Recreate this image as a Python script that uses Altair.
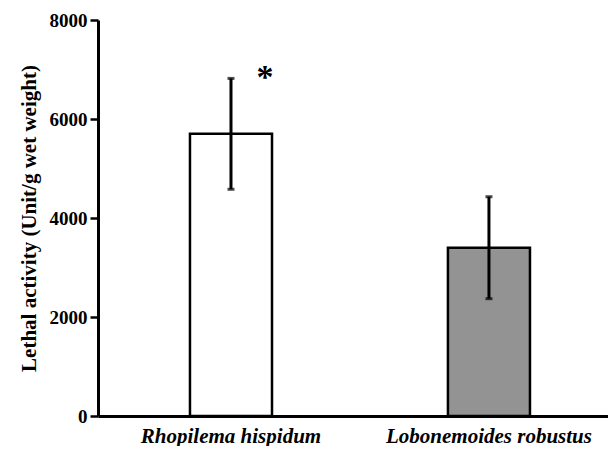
import altair as alt
import pandas as pd

species = ["Rhopilema hispidum", "Lobonemoides robustus"]
means = [5700, 3400]
errors = [1120, 1030]
fills = ["#ffffff", "#939393"]
marker_text = ["*", ""]
y_ticks = [0, 2000, 4000, 6000, 8000]

df = pd.DataFrame({
    "species": species,
    "mean": means,
    "lo": [m - e for m, e in zip(means, errors)],
    "hi": [m + e for m, e in zip(means, errors)],
    "fill": fills,
    "mark": marker_text,
})

FONT = "Liberation Serif"

x = alt.X("species:N", sort=species, title=None,
          scale=alt.Scale(paddingInner=0.682, paddingOuter=0.3295, align=0.541),
          axis=alt.Axis(labelAngle=0, ticks=False, domainColor="black", domainWidth=3,
                        labelFont=FONT, labelFontSize=21, labelFontWeight="bold",
                        labelFontStyle="italic", labelColor="black", labelPadding=9,
                        labelLimit=400))
y = alt.Y("mean:Q", title="Lethal activity (Unit/g wet weight)",
          scale=alt.Scale(domain=[0, 8000], nice=False),
          axis=alt.Axis(values=y_ticks, format="d", grid=False, domainColor="black", domainWidth=3,
                        tickColor="black", tickWidth=2.5, tickSize=8,
                        labelFont=FONT, labelFontSize=19, labelFontWeight="bold",
                        labelColor="black", labelPadding=3,
                        titleFont=FONT, titleFontSize=21, titleFontWeight="bold",
                        titleColor="black", titlePadding=10))

base = alt.Chart(df)

bars = base.mark_bar(stroke="black", strokeWidth=2.5).encode(
    x=x, y=y, fill=alt.Fill("fill:N", scale=None))

err = base.mark_rule(color="black", strokeWidth=3).encode(
    x=alt.X("species:N", sort=species), y="lo:Q", y2="hi:Q")
cap_lo = base.mark_tick(color="black", thickness=3, size=7, orient="horizontal").encode(
    x=alt.X("species:N", sort=species), y="lo:Q")
cap_hi = base.mark_tick(color="black", thickness=3, size=7, orient="horizontal").encode(
    x=alt.X("species:N", sort=species), y="hi:Q")

star = base.mark_text(font=FONT, fontSize=34, fontWeight="bold", color="black",
                      dx=34, dy=0, baseline="middle").encode(
    x=alt.X("species:N", sort=species), y=alt.Y("hi:Q"), text="mark:N")

chart = alt.layer(bars, err, cap_lo, cap_hi, star).properties(
    width=510, height=396,
    padding={"left": 90, "top": 12, "right": 0, "bottom": 30},
    autosize=alt.AutoSizeParams(type="none"),
).configure_view(stroke=None)

chart.save("out.html", embed_options={"renderer": "svg", "actions": False})
